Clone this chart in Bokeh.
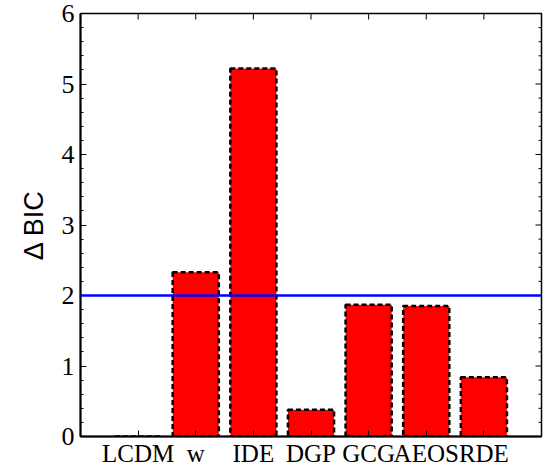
import numpy as np
from bokeh.plotting import figure
from bokeh.models import FixedTicker, Span, Range1d
from bokeh.embed import file_html
from bokeh.resources import INLINE

# Delta BIC of each dark-energy model relative to LCDM
models = ["LCDM", "w", "IDE", "DGP", "GCG", "AEOS", "RDE"]
delta_bic = [0.0, 2.33, 5.22, 0.38, 1.87, 1.85, 0.84]
y_ticks = [0, 1, 2, 3, 4, 5, 6]
threshold = 2.0

positions = list(range(1, len(models) + 1))
x_end = len(models) + 1
y_end = y_ticks[-1]
minor = [i / 5 for i in range(0, 5 * y_end + 1) if i % 5]

p = figure(width=546, height=470, output_backend="svg", toolbar_location=None,
           x_range=Range1d(0, x_end), y_range=Range1d(0, y_end),
           min_border_left=80, min_border_right=5, min_border_top=13,
           min_border_bottom=34, background_fill_color="white",
           border_fill_color="white")

p.vbar(x=positions, top=delta_bic, width=0.8, bottom=0,
       fill_color="#ff0000", line_color="black", line_width=2.5,
       line_dash="5 3")

p.add_layout(Span(location=threshold, dimension="width",
                  line_color="#0000ff", line_width=2.5))

# mirrored tick marks along the top and right edges of the box
p.ray(x=positions, y=[y_end] * len(positions), length=6, length_units="screen",
      angle=-np.pi / 2, line_color="black", line_width=1)
p.ray(x=[x_end] * len(y_ticks), y=y_ticks, length=6, length_units="screen",
      angle=np.pi, line_color="black", line_width=1)
p.ray(x=[x_end] * len(minor), y=minor, length=3, length_units="screen",
      angle=np.pi, line_color="black", line_width=1)

p.grid.visible = False
p.outline_line_color = "black"
p.outline_line_width = 1.5

serif = "Liberation Serif"

p.xaxis.ticker = FixedTicker(ticks=positions)
p.xaxis.major_label_overrides = {pos: name for pos, name in zip(positions, models)}
p.yaxis.ticker = FixedTicker(ticks=y_ticks, minor_ticks=minor)

for ax in (p.xaxis[0], p.yaxis[0]):
    ax.axis_line_width = 2
    ax.axis_line_color = "black"
    ax.major_tick_in = 6
    ax.major_tick_out = 0
    ax.minor_tick_in = 3
    ax.minor_tick_out = 0
    ax.major_tick_line_width = 1
    ax.minor_tick_line_width = 1
    ax.major_label_text_font = serif
    ax.major_label_text_color = "black"

p.xaxis.major_label_text_font_size = "25px"
p.xaxis.major_label_standoff = 3
p.xaxis.minor_tick_line_color = None
p.yaxis.major_label_text_font_size = "26px"
p.yaxis.major_label_standoff = 6

p.yaxis.axis_label = "Δ BIC"
p.yaxis.axis_label_text_font = "Liberation Sans"
p.yaxis.axis_label_text_font_style = "normal"
p.yaxis.axis_label_text_font_size = "27px"
p.yaxis.axis_label_text_color = "black"
p.yaxis.axis_label_standoff = 10

open("out.html", "w").write(file_html(p, INLINE))
